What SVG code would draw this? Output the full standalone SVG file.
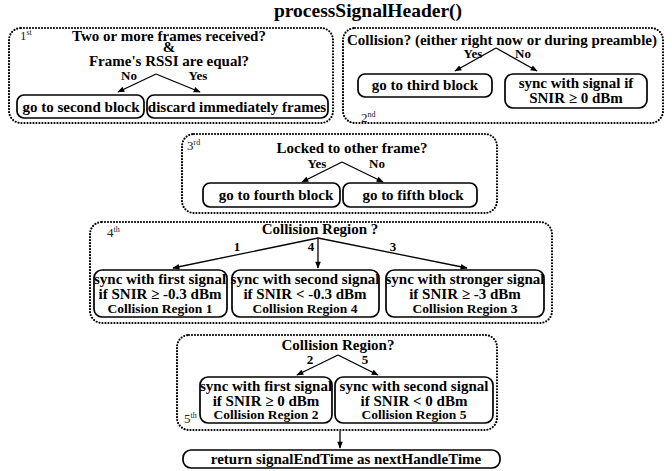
<svg xmlns="http://www.w3.org/2000/svg" width="672" height="471" viewBox="0 0 672 471">
<style>
text{font-family:"Liberation Serif","Times New Roman",serif;fill:#000}
.t{font-weight:bold;font-size:15px;text-anchor:middle}
.q{font-weight:bold;font-size:13px;text-anchor:middle}
.s{font-weight:bold;font-size:13.5px;text-anchor:middle}
.title{font-weight:bold;font-size:19.5px;text-anchor:middle}
.n{font-size:13px;fill:#222}
.sup{font-size:8px}
.blk{fill:none;stroke:#000;stroke-width:2.2;stroke-dasharray:0 3;stroke-linecap:round}
.box{fill:#fff;stroke:#000;stroke-width:1.7}
.ar{fill:none;stroke:#000;stroke-width:1.3;marker-end:url(#ah)}
</style>
<defs>
<marker id="ah" viewBox="0 0 10 10" refX="9" refY="5" markerWidth="8" markerHeight="7" orient="auto" markerUnits="userSpaceOnUse">
<path d="M0,1 L10,5 L0,9 Z" fill="#000"/>
</marker>
</defs>
<text class="title" x="368" y="17">processSignalHeader()</text>

<g id="block1">
<rect class="blk" x="9" y="28" width="324" height="95" rx="12"/>
<text class="n" x="20" y="40">1<tspan class="sup" dy="-5">st</tspan></text>
<text class="t" x="169" y="41">Two or more frames received?</text>
<text class="t" x="169" y="52">&amp;</text>
<text class="t" x="169" y="66">Frame's RSSI are equal?</text>
<text class="q" x="129" y="80">No</text>
<text class="q" x="198" y="80">Yes</text>
</g>
<g id="b1no"><rect class="box" x="17" y="95" width="127" height="23" rx="7"/><text class="t" x="81" y="112">go to second block</text></g>
<g id="b1yes"><rect class="box" x="147" y="95" width="181" height="23" rx="7"/><text class="t" x="237" y="112">discard immediately frames</text></g>

<g id="block2">
<rect class="blk" x="343" y="28" width="320" height="95" rx="12"/>
<text class="t" x="502" y="45">Collision? (either right now or during preamble)</text>
<text class="q" x="473" y="58">Yes</text>
<text class="q" x="523" y="58">No</text>
<text class="n" x="361" y="122">2<tspan class="sup" dy="-5">nd</tspan></text>
</g>
<g id="b2yes"><rect class="box" x="358" y="74" width="134" height="23" rx="7"/><text class="t" x="425" y="90">go to third block</text></g>
<g id="b2no"><rect class="box" x="505" y="74" width="142" height="34" rx="8"/><text class="t" x="576" y="88">sync with signal if</text><text class="t" x="576" y="103">SNIR ≥ 0 dBm</text></g>

<g id="block3">
<rect class="blk" x="182" y="134" width="315" height="79" rx="12"/>
<text class="n" x="187" y="150">3<tspan class="sup" dy="-5">rd</tspan></text>
<text class="t" x="352" y="153">Locked to other frame?</text>
<text class="q" x="317" y="168">Yes</text>
<text class="q" x="377" y="168">No</text>
</g>
<g id="b3yes"><rect class="box" x="203" y="183" width="137" height="24" rx="7"/><text class="t" x="276" y="200">go to fourth block</text></g>
<g id="b3no"><rect class="box" x="343" y="183" width="134" height="24" rx="7"/><text class="t" x="413" y="200">go to fifth block</text></g>

<g id="block4">
<rect class="blk" x="90" y="222" width="462" height="101" rx="12"/>
<text class="n" x="107" y="237">4<tspan class="sup" dy="-5">th</tspan></text>
<text class="t" x="320" y="234">Collision Region ?</text>
<text class="q" x="237" y="251">1</text>
<text class="q" x="311" y="251">4</text>
<text class="q" x="393" y="251">3</text>
</g>
<g id="r1"><rect class="box" x="94" y="270" width="133" height="47" rx="8"/><text class="t" x="160" y="284">sync with first signal</text><text class="t" x="160" y="299">if SNIR ≥ -0.3 dBm</text><text class="s" x="160" y="313">Collision Region 1</text></g>
<g id="r4"><rect class="box" x="232" y="270" width="147" height="47" rx="8"/><text class="t" x="305" y="284">sync with second signal</text><text class="t" x="305" y="299">if SNIR &lt; -0.3 dBm</text><text class="s" x="305" y="313">Collision Region 4</text></g>
<g id="r3"><rect class="box" x="386" y="270" width="158" height="47" rx="8" stroke-width="2.4"/><text class="t" x="465" y="284">sync with stronger signal</text><text class="t" x="465" y="299">if SNIR ≥ -3 dBm</text><text class="s" x="465" y="313">Collision Region 3</text></g>

<g id="block5">
<rect class="blk" x="177" y="335" width="320" height="95" rx="12"/>
<text class="t" x="338" y="350">Collision Region?</text>
<text class="q" x="310" y="364">2</text>
<text class="q" x="365" y="364">5</text>
<text class="n" x="184" y="423">5<tspan class="sup" dy="-5">th</tspan></text>
</g>
<g id="r2"><rect class="box" x="200" y="377" width="132" height="46" rx="8"/><text class="t" x="266" y="391">sync with first signal</text><text class="t" x="266" y="406">if SNIR ≥ 0 dBm</text><text class="s" x="266" y="419">Collision Region 2</text></g>
<g id="r5"><rect class="box" x="335" y="377" width="158" height="46" rx="8"/><text class="t" x="414" y="391">sync with second signal</text><text class="t" x="414" y="406">if SNIR &lt; 0 dBm</text><text class="s" x="414" y="419">Collision Region 5</text></g>

<g id="ret"><rect class="box" x="183" y="450" width="317" height="18" rx="8"/><text class="t" x="346" y="464">return signalEndTime as nextHandleTime</text></g>

<g id="connectors">
<polyline class="ar" points="156,74 118,92"/>
<polyline class="ar" points="156,74 200,92"/>
<polyline class="ar" points="496,48 455,71"/>
<polyline class="ar" points="496,48 537,71"/>
<polyline class="ar" points="342,162 302,182"/>
<polyline class="ar" points="342,162 383,182"/>
<polyline class="ar" points="318,238 173,268"/>
<polyline class="ar" points="318,238 318,268"/>
<polyline class="ar" points="318,238 467,268"/>
<polyline class="ar" points="338,355 297,375"/>
<polyline class="ar" points="338,355 378,375"/>
<polyline class="ar" points="340,431 340,448"/>
</g>
</svg>
